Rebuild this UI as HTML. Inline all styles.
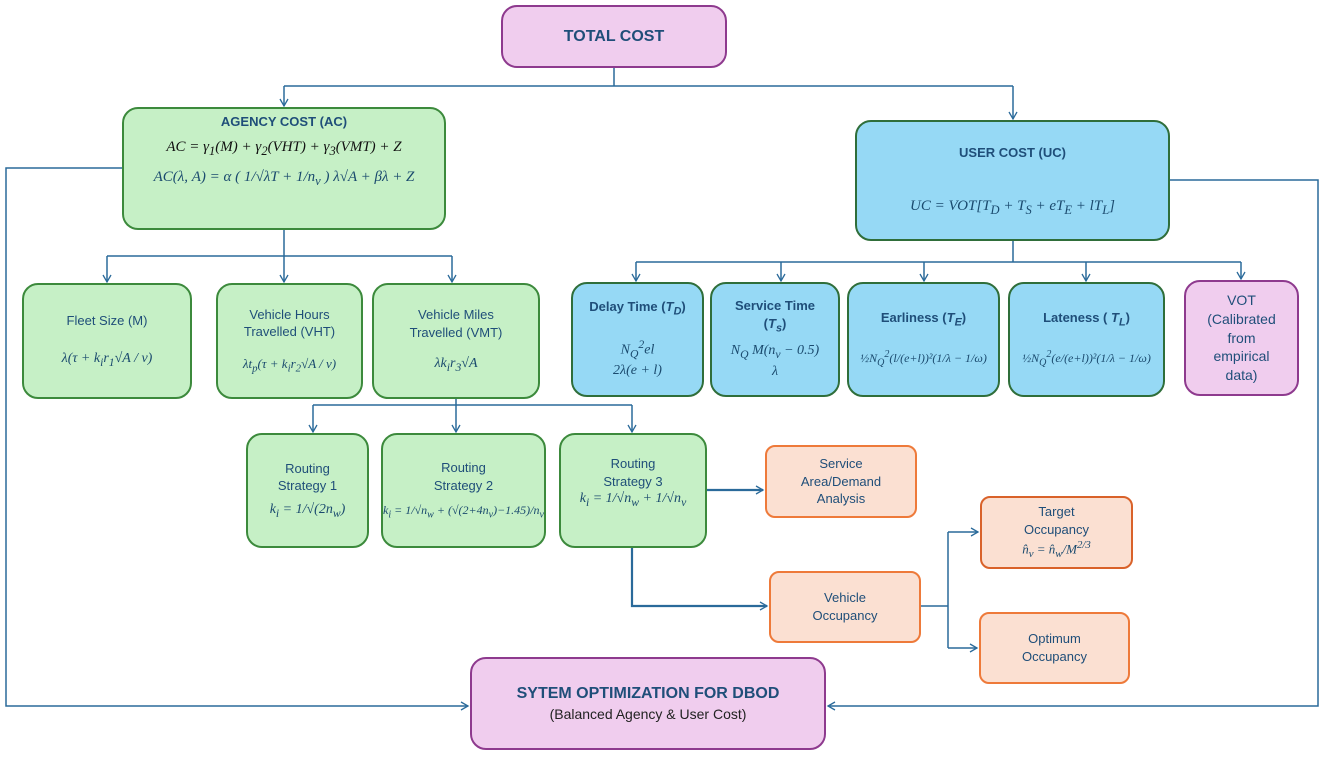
<!DOCTYPE html>
<html><head><meta charset="utf-8"><style>
body{margin:0;width:1325px;height:760px;background:#fff;position:relative;overflow:hidden;font-family:"Liberation Sans",sans-serif;color:#1f4e79}
.b{position:absolute;box-sizing:border-box;border-radius:16px;border:2px solid #3c8a3c;text-align:center;display:flex;flex-direction:column;justify-content:center;align-items:center;font-size:13px;line-height:1.35}
.g{background:#c6f0c6}
.bl{background:#96d9f5;border-color:#2f6e3a}
.p{background:#f0cdee;border-color:#8e3a8e}
.o{background:#fbe0d2;border-color:#ee7a3a;border-radius:10px}
.m{font-family:"Liberation Serif",serif;font-style:italic;font-size:14px;color:#1a4a6e}
.t{font-weight:bold}
svg{position:absolute;left:0;top:0}
</style></head><body>
<svg width="1325" height="760" viewBox="0 0 1325 760"><defs><marker id="a" markerWidth="10" markerHeight="10" refX="8" refY="5" orient="auto" markerUnits="userSpaceOnUse"><path d="M1,1 L8,5 L1,9" fill="none" stroke="#2a6a9a" stroke-width="1.3"/></marker></defs>
<g fill="none" stroke="#2a6a9a" stroke-width="1.5">
<path d="M614 68V86M284 86H1013"/><path d="M284 86V106" marker-end="url(#a)"/><path d="M1013 86V119" marker-end="url(#a)"/>
<path d="M122 168H6V706H468" marker-end="url(#a)"/>
<path d="M1170 180H1318V706H828" marker-end="url(#a)"/>
<path d="M284 230V256M107 256H452"/><path d="M107 256V282" marker-end="url(#a)"/><path d="M284 256V282" marker-end="url(#a)"/><path d="M452 256V282" marker-end="url(#a)"/>
<path d="M1013 241V262M636 262H1241"/><path d="M636 262V281" marker-end="url(#a)"/><path d="M781 262V281" marker-end="url(#a)"/><path d="M924 262V281" marker-end="url(#a)"/><path d="M1086 262V281" marker-end="url(#a)"/><path d="M1241 262V279" marker-end="url(#a)"/>
<path d="M456 399V405M313 405H632"/><path d="M313 405V432" marker-end="url(#a)"/><path d="M456 405V432" marker-end="url(#a)"/><path d="M632 405V432" marker-end="url(#a)"/>
<path d="M707 490H763" stroke-width="2.2" marker-end="url(#a)"/>
<path d="M632 548V606H767" stroke-width="2.2" marker-end="url(#a)"/>
<path d="M921 606H948M948 532V648"/><path d="M948 532H978" marker-end="url(#a)"/><path d="M948 648H977" marker-end="url(#a)"/>
</g></svg>
<div class="b p t" style="left:501px;top:5px;width:226px;height:63px;font-size:16px">TOTAL COST</div>
<div class="b g" style="left:122px;top:107px;width:324px;height:123px;justify-content:flex-start;padding-top:4px">
<div class="t" style="font-size:13px">AGENCY COST (AC)</div>
<div class="m" style="font-size:15px;margin-top:6px;color:#111">AC = γ<sub>1</sub>(M) + γ<sub>2</sub>(VHT) + γ<sub>3</sub>(VMT) + Z</div>
<div class="m" style="font-size:15px;margin-top:8px">AC(λ, A) = α ( 1/√λT + 1/n<sub>v</sub> ) λ√A + βλ + Z</div></div>
<div class="b bl" style="left:855px;top:120px;width:315px;height:121px;justify-content:flex-start;padding-top:22px">
<div class="t">USER COST (UC)</div>
<div class="m" style="font-size:15px;margin-top:34px">UC = VOT[T<sub>D</sub> + T<sub>S</sub> + eT<sub>E</sub> + lT<sub>L</sub>]</div></div>
<div class="b g" style="left:22px;top:283px;width:170px;height:116px"><div>Fleet Size (M)</div><div class="m" style="margin-top:20px">λ(τ + k<sub>i</sub>r<sub>1</sub>√A / v)</div></div>
<div class="b g" style="left:216px;top:283px;width:147px;height:116px"><div>Vehicle Hours<br>Travelled (VHT)</div><div class="m" style="margin-top:14px;font-size:13px">λt<sub>p</sub>(τ + k<sub>i</sub>r<sub>2</sub>√A / v)</div></div>
<div class="b g" style="left:372px;top:283px;width:168px;height:116px"><div>Vehicle Miles<br>Travelled (VMT)</div><div class="m" style="margin-top:14px">λk<sub>i</sub>r<sub>3</sub>√A</div></div>
<div class="b bl" style="left:571px;top:282px;width:133px;height:115px"><div class="t">Delay Time (<i>T<sub>D</sub></i>)</div><div class="m" style="margin-top:18px">N<sub>Q</sub><sup>2</sup>el<br>2λ(e + l)</div></div>
<div class="b bl" style="left:710px;top:282px;width:130px;height:115px"><div class="t">Service Time<br>(<i>T<sub>s</sub></i>)</div><div class="m" style="margin-top:6px">N<sub>Q</sub> M(n<sub>v</sub> − 0.5)<br>λ</div></div>
<div class="b bl" style="left:847px;top:282px;width:153px;height:115px"><div class="t">Earliness (<i>T<sub>E</sub></i>)</div><div class="m" style="margin-top:18px;font-size:12px">½N<sub>Q</sub><sup>2</sup>(l/(e+l))²(1/λ − 1/ω)</div></div>
<div class="b bl" style="left:1008px;top:282px;width:157px;height:115px"><div class="t">Lateness ( <i>T<sub>L</sub></i>)</div><div class="m" style="margin-top:18px;font-size:12px">½N<sub>Q</sub><sup>2</sup>(e/(e+l))²(1/λ − 1/ω)</div></div>
<div class="b p" style="left:1184px;top:280px;width:115px;height:116px;font-size:14px">VOT<br>(Calibrated<br>from<br>empirical<br>data)</div>
<div class="b g" style="left:246px;top:433px;width:123px;height:115px"><div>Routing<br>Strategy 1</div><div class="m" style="margin-top:6px">k<sub>i</sub> = 1/√(2n<sub>w</sub>)</div></div>
<div class="b g" style="left:381px;top:433px;width:165px;height:115px"><div>Routing<br>Strategy 2</div><div class="m" style="margin-top:8px;font-size:12px">k<sub>i</sub> = 1/√n<sub>w</sub> + (√(2+4n<sub>v</sub>)−1.45)/n<sub>v</sub></div></div>
<div class="b g" style="left:559px;top:433px;width:148px;height:115px;justify-content:flex-start;padding-top:20px"><div>Routing<br>Strategy 3</div><div class="m">k<sub>i</sub> = 1/√n<sub>w</sub> + 1/√n<sub>v</sub></div></div>
<div class="b o" style="left:765px;top:445px;width:152px;height:73px">Service<br>Area/Demand<br>Analysis</div>
<div class="b o" style="left:980px;top:496px;width:153px;height:73px;border-color:#d9622a">Target<br>Occupancy<div class="m" style="font-size:13px">n̂<sub>v</sub> = n̂<sub>w</sub>/M<sup>2/3</sup></div></div>
<div class="b o" style="left:769px;top:571px;width:152px;height:72px">Vehicle<br>Occupancy</div>
<div class="b o" style="left:979px;top:612px;width:151px;height:72px">Optimum<br>Occupancy</div>
<div class="b p" style="left:470px;top:657px;width:356px;height:93px"><div class="t" style="font-size:16px">SYTEM OPTIMIZATION FOR DBOD</div><div style="font-size:14px;color:#222">(Balanced Agency &amp; User Cost)</div></div>
</body></html>
